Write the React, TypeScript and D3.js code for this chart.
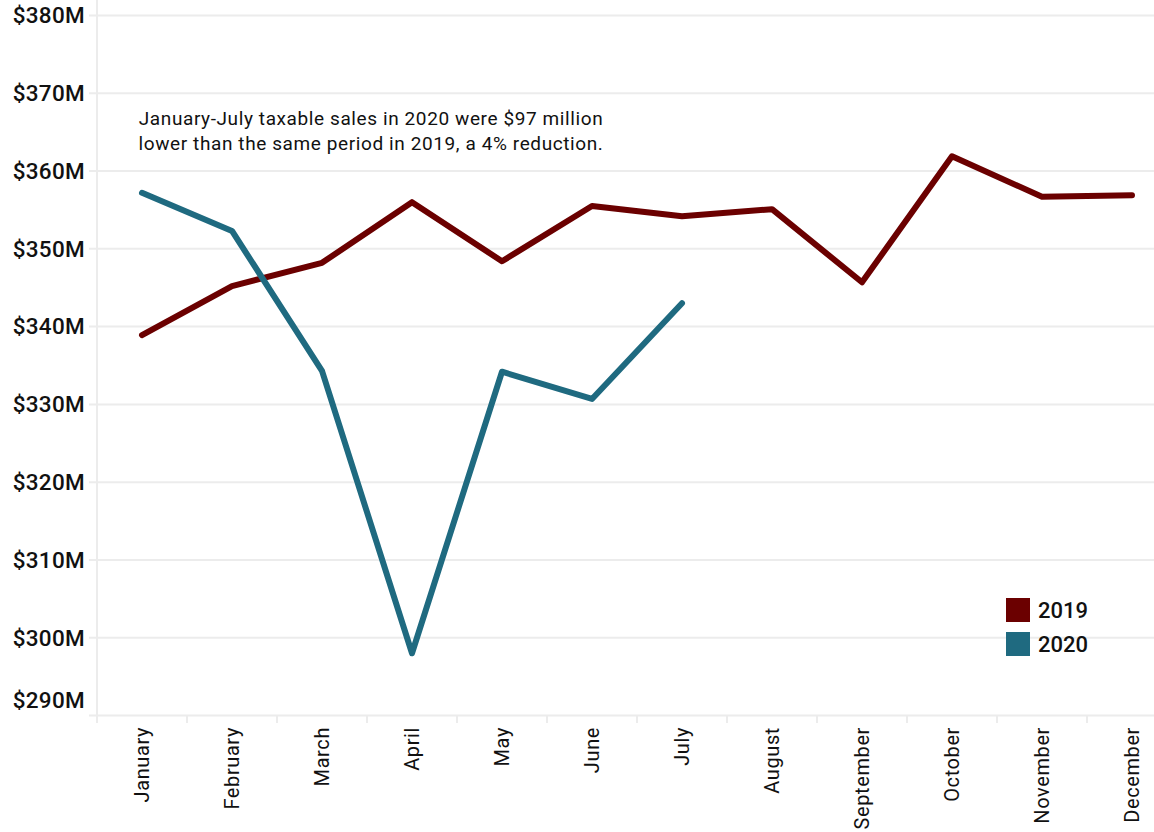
import React from "react";
import * as d3 from "d3";

const months = ["January","February","March","April","May","June","July","August","September","October","November","December"];
const sales2019 = [338.9, 345.2, 348.2, 356.0, 348.4, 355.5, 354.2, 355.1, 345.7, 361.9, 356.7, 356.9];
const sales2020 = [357.2, 352.3, 334.3, 298.0, 334.2, 330.7, 343.0];
const yTicks = [290, 300, 310, 320, 330, 340, 350, 360, 370, 380];
const seriesNames = ["2019", "2020"];
const seriesColors = ["#6b0000", "#1f6a80"];
const annotation = [
  "January-July taxable sales in 2020 were $97 million",
  "lower than the same period in 2019, a 4% reduction.",
];

const W = 1154, H = 832;
const FONT = "Roboto, 'DejaVu Sans', sans-serif";

export default function App() {
  const x = d3.scaleBand<string>().domain(months).range([97, 97 + 90 * 12]);
  const y = d3.scaleLinear().domain([290, 380]).range([715.5, 15.5]);
  const cx = (m: string) => (x(m) as number) + x.bandwidth() / 2;
  const line = d3.line<number>().x((_, i) => cx(months[i])).y((d) => y(d));
  const series = [sales2019, sales2020];

  return (
    <svg width={W} height={H} style={{ position: "absolute", left: 0, top: 0, background: "#fff" }} fontFamily={FONT}>
      {yTicks.map((t, i) => (
        <g key={t}>
          <line x1={89} x2={W} y1={y(t)} y2={y(t)} stroke="#ececec" strokeWidth={2} />
          <text x={85} y={i === 0 ? y(t) - 15 : y(t)} dy="0.35em" textAnchor="end" fontSize={22.5} fontWeight={500} letterSpacing={0.3} fill="#111">
            ${t}M
          </text>
        </g>
      ))}
      <line x1={97} x2={97} y1={0} y2={723} stroke="#ececec" strokeWidth={2} />
      {months.map((m, i) => (
        <g key={m}>
          {i > 0 && <line x1={x(m) as number} x2={x(m) as number} y1={715.5} y2={723} stroke="#ececec" strokeWidth={2} />}
          <text
            transform={`translate(${cx(m)},${727}) rotate(-90)`}
            textAnchor="end"
            dy="0.35em"
            fontSize={20}
            letterSpacing={0.6}
            fill="#111"
          >
            {m}
          </text>
        </g>
      ))}
      {series.map((s, i) => (
        <path key={i} d={line(s) || ""} fill="none" stroke={seriesColors[i]} strokeWidth={6} strokeLinejoin="round" strokeLinecap="round" />
      ))}
      {annotation.map((a, i) => (
        <text key={i} x={371} y={118 + i * 25} dy="0.35em" textAnchor="middle" fontSize={19} letterSpacing={0.6} fill="#111">
          {a}
        </text>
      ))}
      {seriesNames.map((n, i) => (
        <g key={n} transform={`translate(1006,${598 + i * 34})`}>
          <rect width={24} height={24} fill={seriesColors[i]} />
          <text x={32} y={12} dy="0.35em" fontSize={22} fontWeight={500} fill="#111">{n}</text>
        </g>
      ))}
    </svg>
  );
}
